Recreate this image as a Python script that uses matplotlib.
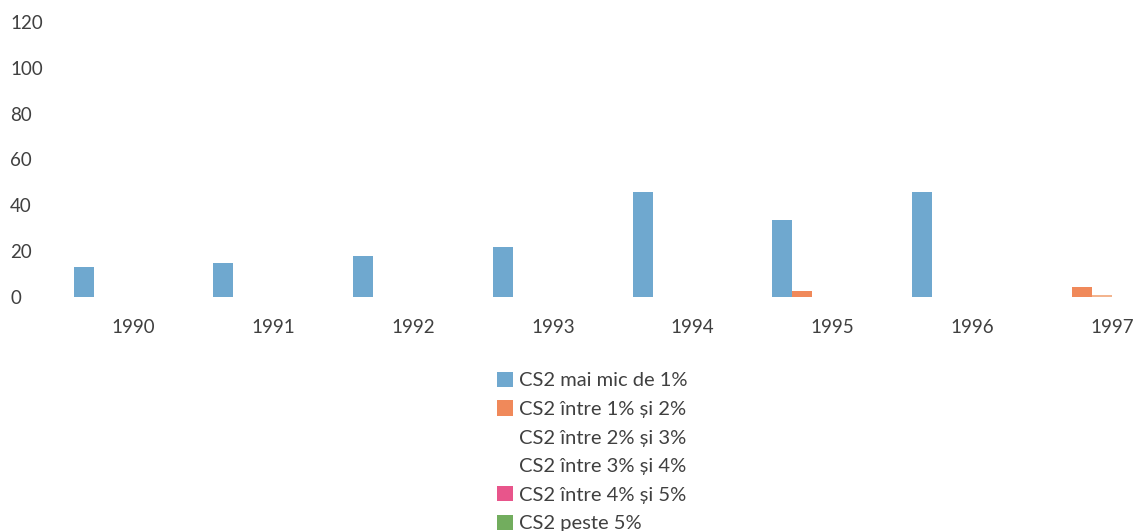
import numpy as np
import matplotlib
matplotlib.use("Agg")
import matplotlib.pyplot as plt

plt.rcParams["font.family"] = ["Lato", "DejaVu Sans"]
TXT = "#404040"

years = ["1990", "1991", "1992", "1993", "1994", "1995", "1996", "1997"]
labels = ["CS2 mai mic de 1%", "CS2 între 1% și 2%", "CS2 între 2% și 3%",
          "CS2 între 3% și 4%", "CS2 între 4% și 5%", "CS2 peste 5%"]
sub1 = [13, 15, 18, 22, 46, 33.5, 46, 0]
s1_2 = [0, 0, 0, 0, 0, 2.5, 0, 4.5]
s2_3 = [0, 0, 0, 0, 0, 0, 0, 1]
s3_4 = [0, 0, 0, 0, 0, 0, 0, 0]
s4_5 = [0, 0, 0, 0, 0, 0, 0, 0]
over5 = [0, 0, 0, 0, 0, 0, 0, 0]
series = [sub1, s1_2, s2_3, s3_4, s4_5, over5]
colors = ["#6fa8cf", "#f0895a", "#f3b48e", "#ffffff", "#e8558b", "#72ad5e"]

fig = plt.figure(figsize=(11.39, 5.31), dpi=100)
ax = fig.add_axes([0.048, 0.4407, 0.952, 0.518])

x = np.arange(len(years))
w = 0.143
bars = []
for i, (vals, c) in enumerate(zip(series, colors)):
    b = ax.bar(x + (i - 2.5) * w, vals, width=w, color=c, label=labels[i])
    bars.append(b)

ax.set_xlim(-0.565, 7.195)
ax.set_ylim(0, 120)
ax.set_yticks(range(0, 121, 20))
ax.set_xticks(x)
ax.set_xticklabels(years)
for s in ax.spines.values():
    s.set_visible(False)
ax.tick_params(axis="both", length=0, labelsize=13.5, colors=TXT)
ax.tick_params(axis="x", pad=16)
ax.tick_params(axis="y", pad=32)
for t in ax.get_yticklabels():
    t.set_horizontalalignment("left")

leg = fig.legend(handles=bars, labels=labels, loc="upper left",
                 bbox_to_anchor=(0.436, 0.3), frameon=False, fontsize=14.5,
                 handlelength=0.8, handleheight=0.8, handletextpad=0.3,
                 labelspacing=0.54, borderaxespad=0, borderpad=0)
for t in leg.get_texts():
    t.set_color(TXT)
leg.legend_handles[2].set_visible(False)
leg.legend_handles[3].set_visible(False)

fig.savefig("out.png", dpi=100)
